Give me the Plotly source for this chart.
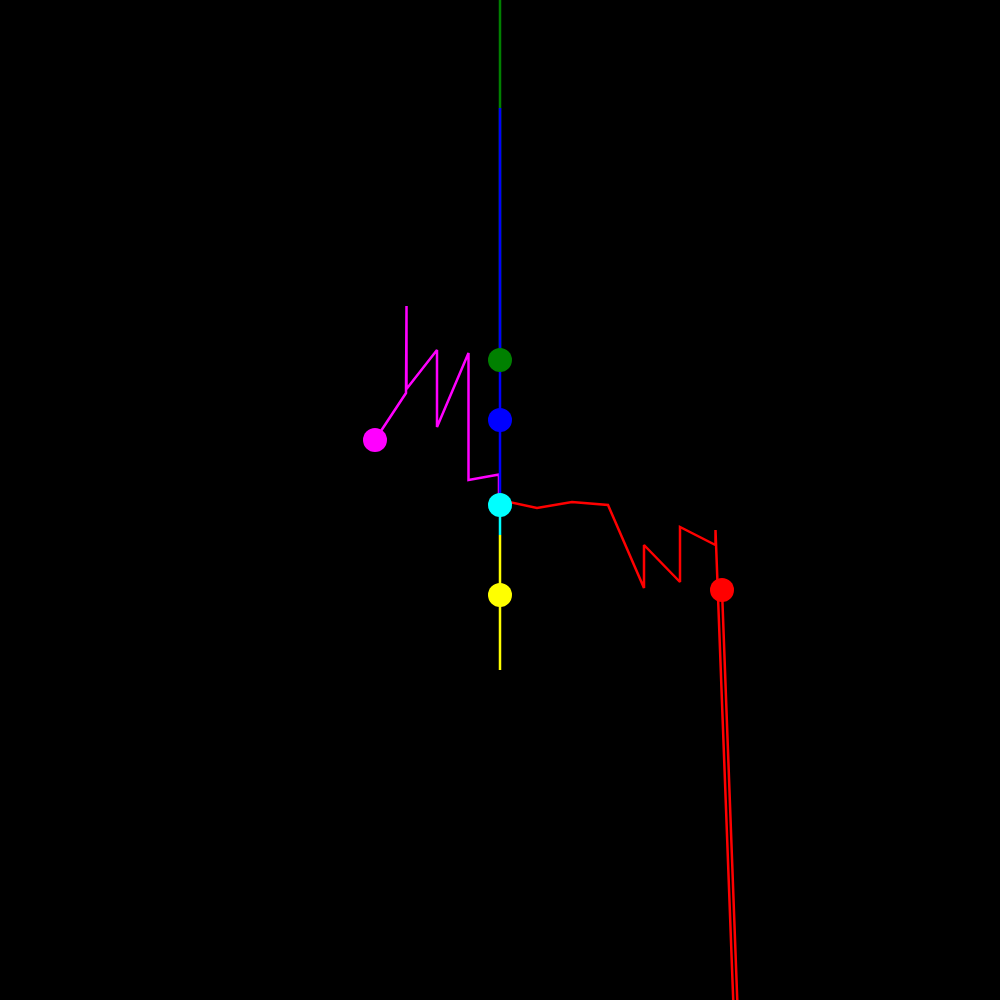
import plotly.graph_objects as go

# Paths (pixel-like coordinate space, y grows downward)
green_x = [500, 500]
green_y = [-20, 360]
blue_x = [500, 500]
blue_y = [108, 505]
cyan_x = [500, 500]
cyan_y = [505, 535]
yellow_x = [500, 500]
yellow_y = [535, 670]
magenta_x = [375, 406, 406.5, 406.5, 437, 437, 468.5, 468.5, 499, 499]
magenta_y = [440, 393, 306, 389, 350, 427, 353, 480, 474.5, 505]
red_x = [500, 537, 572, 608, 644, 644, 680, 680, 715.5, 715.5, 737, 741, 722]
red_y = [500, 508, 502, 505, 588, 545, 582, 527, 545, 530, 1100, 1100, 590]

# Endpoint markers
marker_names = ["green", "blue", "cyan", "yellow", "magenta", "red"]
marker_x = [500, 500, 500, 500, 375, 722]
marker_y = [360, 420, 505, 595, 440, 590]
colors = {"green": "#008000", "blue": "#0000ff", "cyan": "#00ffff",
          "yellow": "#ffff00", "magenta": "#ff00ff", "red": "#ff0000"}

fig = go.Figure()
for name, xs, ys in [("magenta", magenta_x, magenta_y), ("green", green_x, green_y),
                     ("blue", blue_x, blue_y), ("cyan", cyan_x, cyan_y),
                     ("yellow", yellow_x, yellow_y), ("red", red_x, red_y)]:
    fig.add_trace(go.Scatter(x=xs, y=ys, mode="lines", name=name,
                             line=dict(color=colors[name], width=2.5),
                             hoverinfo="skip", showlegend=False))

fig.add_trace(go.Scatter(x=marker_x, y=marker_y, mode="markers",
                         marker=dict(size=24, color=[colors[n] for n in marker_names],
                                     line=dict(width=0)),
                         hoverinfo="skip", showlegend=False))

fig.update_layout(
    width=1000, height=1000,
    margin=dict(l=0, r=0, t=0, b=0),
    paper_bgcolor="black", plot_bgcolor="black",
    xaxis=dict(range=[0, 1000], visible=False, showgrid=False, zeroline=False),
    yaxis=dict(range=[1000, 0], visible=False, showgrid=False, zeroline=False),
    showlegend=False,
)
fig.write_html("out.html")
